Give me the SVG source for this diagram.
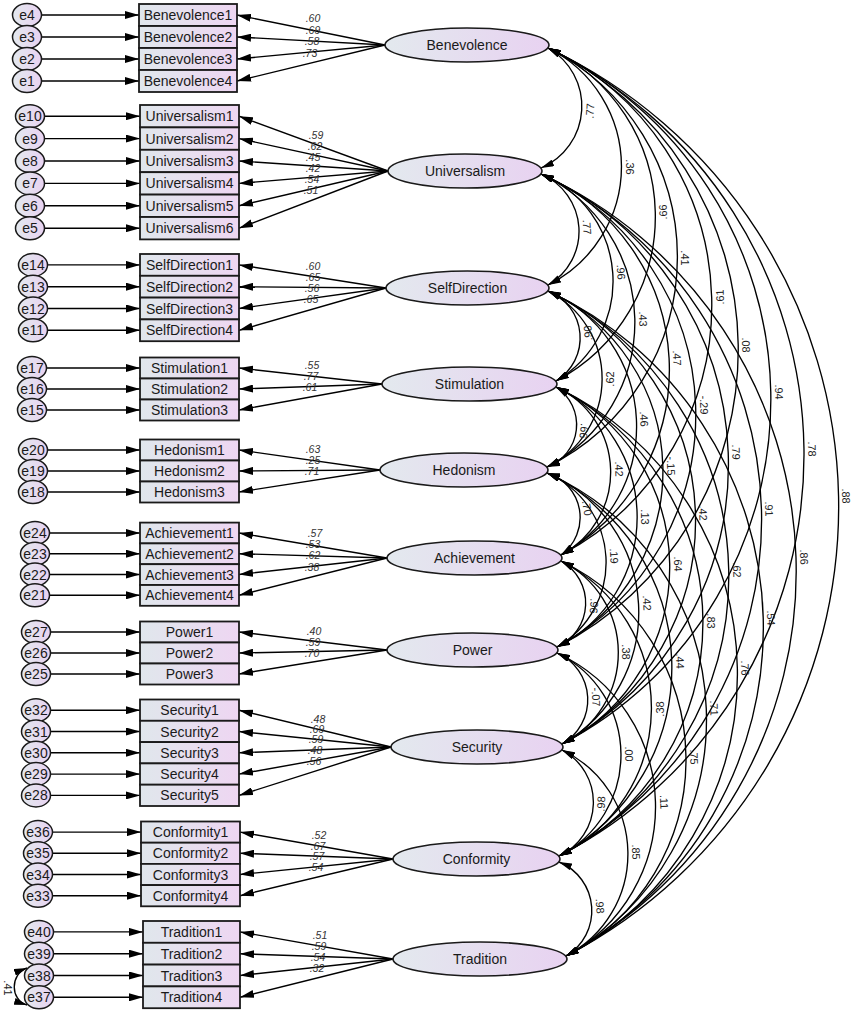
<svg xmlns="http://www.w3.org/2000/svg" width="855" height="1011" viewBox="0 0 855 1011">
<style>
.box{fill:url(#gb);stroke:#1a1a1a;stroke-width:1.8}
.lat{fill:url(#ge);stroke:#1a1a1a;stroke-width:1.6}
.err{fill:url(#ge);stroke:#1a1a1a;stroke-width:1.5}
text{font-family:"Liberation Sans",Arial,sans-serif;fill:#1a1a1a}
.t{font-size:14px;text-anchor:middle}
.ld{font-size:10.5px;font-style:italic;text-anchor:middle;fill:#333}
.cl{font-size:11px;text-anchor:middle;fill:#222}
.ln{stroke:#000;stroke-width:1.4;fill:none;marker-end:url(#a1)}
.arc{stroke:#000;stroke-width:1.35;fill:none;marker-start:url(#a2);marker-end:url(#a2)}
</style>
<defs>
<linearGradient id="gb" x1="0" y1="0" x2="1" y2="0"><stop offset="0" stop-color="#e0e7ec"/><stop offset="1" stop-color="#eed6f2"/></linearGradient>
<linearGradient id="ge" x1="0" y1="0" x2="1" y2="0"><stop offset="0" stop-color="#e3e9ee"/><stop offset="1" stop-color="#e8d2f1"/></linearGradient>
<marker id="a1" markerUnits="userSpaceOnUse" markerWidth="14" markerHeight="8" refX="14" refY="4" orient="auto"><path d="M0,0 L14,4 L0,8 z" fill="#000"/></marker>
<marker id="a2" markerUnits="userSpaceOnUse" markerWidth="13" markerHeight="7" refX="13" refY="3.5" orient="auto-start-reverse"><path d="M0,0 L13,3.5 L0,7 z" fill="#000"/></marker>
</defs>
<rect width="855" height="1011" fill="#fff"/>
<g id="connectors">
<g id="error-paths">
<path class="ln" d="M41.5 15H139"/><path class="ln" d="M41.5 37H139"/><path class="ln" d="M41.5 59H139"/><path class="ln" d="M41.5 81H139"/>
<path class="ln" d="M44.5 116.2H140"/><path class="ln" d="M44.5 138.6H140"/><path class="ln" d="M44.5 161H140"/><path class="ln" d="M44.5 183.4H140"/><path class="ln" d="M44.5 205.8H140"/><path class="ln" d="M44.5 228.2H140"/>
<path class="ln" d="M47.5 264.9H140"/><path class="ln" d="M47.5 286.7H140"/><path class="ln" d="M47.5 308.5H140"/><path class="ln" d="M47.5 330.3H140"/>
<path class="ln" d="M46.5 368H140"/><path class="ln" d="M46.5 389H140"/><path class="ln" d="M46.5 410H140"/>
<path class="ln" d="M47.5 450H140"/><path class="ln" d="M47.5 471H140"/><path class="ln" d="M47.5 492H140"/>
<path class="ln" d="M49.5 533H140"/><path class="ln" d="M49.5 553.7H140"/><path class="ln" d="M49.5 574.5H140"/><path class="ln" d="M49.5 595.3H140"/>
<path class="ln" d="M50.5 632H140"/><path class="ln" d="M50.5 653H140"/><path class="ln" d="M50.5 674H140"/>
<path class="ln" d="M50.5 710.2H140"/><path class="ln" d="M50.5 731.5H140"/><path class="ln" d="M50.5 752.8H140"/><path class="ln" d="M50.5 774.1H140"/><path class="ln" d="M50.5 795.4H140"/>
<path class="ln" d="M52.5 832.1H141"/><path class="ln" d="M52.5 853.3H141"/><path class="ln" d="M52.5 874.5H141"/><path class="ln" d="M52.5 895.7H141"/>
<path class="ln" d="M53.5 931.9H143"/><path class="ln" d="M53.5 953.7H143"/><path class="ln" d="M53.5 975.5H143"/><path class="ln" d="M53.5 997.3H143"/>
</g>
<g id="loading-paths">
<path class="ln" d="M385 45L237 15"/><path class="ln" d="M385 45L237 37"/><path class="ln" d="M385 45L237 59"/><path class="ln" d="M385 45L237 81"/>
<path class="ln" d="M388 171L239 116.2"/><path class="ln" d="M388 171L239 138.6"/><path class="ln" d="M388 171L239 161"/><path class="ln" d="M388 171L239 183.4"/><path class="ln" d="M388 171L239 205.8"/><path class="ln" d="M388 171L239 228.2"/>
<path class="ln" d="M386 288L239 264.9"/><path class="ln" d="M386 288L239 286.7"/><path class="ln" d="M386 288L239 308.5"/><path class="ln" d="M386 288L239 330.3"/>
<path class="ln" d="M382 384L239 368"/><path class="ln" d="M382 384L239 389"/><path class="ln" d="M382 384L239 410"/>
<path class="ln" d="M380 470L239 450"/><path class="ln" d="M380 470L239 471"/><path class="ln" d="M380 470L239 492"/>
<path class="ln" d="M387 558L239 533"/><path class="ln" d="M387 558L239 553.7"/><path class="ln" d="M387 558L239 574.5"/><path class="ln" d="M387 558L239 595.3"/>
<path class="ln" d="M387 650L239 632"/><path class="ln" d="M387 650L239 653"/><path class="ln" d="M387 650L239 674"/>
<path class="ln" d="M391 747L239 710.2"/><path class="ln" d="M391 747L239 731.5"/><path class="ln" d="M391 747L239 752.8"/><path class="ln" d="M391 747L239 774.1"/><path class="ln" d="M391 747L239 795.4"/>
<path class="ln" d="M393 859L240 832.1"/><path class="ln" d="M393 859L240 853.3"/><path class="ln" d="M393 859L240 874.5"/><path class="ln" d="M393 859L240 895.7"/>
<path class="ln" d="M393 959L240 931.9"/><path class="ln" d="M393 959L240 953.7"/><path class="ln" d="M393 959L240 975.5"/><path class="ln" d="M393 959L240 997.3"/>
</g>
<g id="loading-labels">
<text class="ld" x="313" y="21.7">.60</text><text class="ld" x="313" y="33.7">.69</text><text class="ld" x="312" y="44.7">.58</text><text class="ld" x="310" y="56.7">.73</text>
<text class="ld" x="316" y="138.7">.59</text><text class="ld" x="315" y="149.7">.62</text><text class="ld" x="313" y="160.7">.45</text><text class="ld" x="313" y="171.7">.42</text><text class="ld" x="312" y="182.7">.54</text><text class="ld" x="311" y="193.7">.51</text>
<text class="ld" x="313" y="269.7">.60</text><text class="ld" x="313" y="280.7">.65</text><text class="ld" x="312" y="291.7">.56</text><text class="ld" x="311" y="302.7">.65</text>
<text class="ld" x="312" y="368.7">.55</text><text class="ld" x="311" y="379.7">.77</text><text class="ld" x="310" y="390.7">.61</text>
<text class="ld" x="313" y="452.7">.63</text><text class="ld" x="313" y="463.7">.25</text><text class="ld" x="312" y="474.7">.71</text>
<text class="ld" x="315" y="536.7">.57</text><text class="ld" x="313" y="547.7">.53</text><text class="ld" x="313" y="558.7">.62</text><text class="ld" x="312" y="570.7">.38</text>
<text class="ld" x="314" y="634.7">.40</text><text class="ld" x="313" y="645.7">.59</text><text class="ld" x="312" y="656.7">.70</text>
<text class="ld" x="318" y="722.7">.48</text><text class="ld" x="317" y="732.7">.69</text><text class="ld" x="316" y="742.7">.59</text><text class="ld" x="315" y="753.7">.48</text><text class="ld" x="314" y="764.7">.56</text>
<text class="ld" x="319" y="838.7">.52</text><text class="ld" x="318" y="849.7">.67</text><text class="ld" x="317" y="859.7">.57</text><text class="ld" x="316" y="870.7">.54</text>
<text class="ld" x="320" y="938.7">.51</text><text class="ld" x="319" y="949.7">.59</text><text class="ld" x="318" y="960.7">.54</text><text class="ld" x="317" y="971.7">.32</text>
</g>
<g id="error-covariance">
<path class="arc" d="M27 968C10 974 10 1000 27 1005"/>
<text class="cl" x="8" y="988" transform="rotate(90 8 988)" dy="0.35em">.41</text>
</g>
<g id="correlations">
<path class="arc" d="M548 48A67.1 67.1 0 0 1 541 168"/>
<path class="arc" d="M548 48A132.3 132.3 0 0 1 548 285"/>
<path class="arc" d="M548 48A185.9 185.9 0 0 1 556 381"/>
<path class="arc" d="M548 48A233.9 233.9 0 0 1 547 467"/>
<path class="arc" d="M548 48A283.1 283.1 0 0 1 561 555"/>
<path class="arc" d="M548 48A334.4 334.4 0 0 1 557 647"/>
<path class="arc" d="M548 48A388.6 388.6 0 0 1 562 744"/>
<path class="arc" d="M548 48A451.1 451.1 0 0 1 559 856"/>
<path class="arc" d="M548 48A506.9 506.9 0 0 1 566 956"/>
<path class="arc" d="M541 174A62.1 62.1 0 0 1 548 285"/>
<path class="arc" d="M541 174A115.8 115.8 0 0 1 556 381"/>
<path class="arc" d="M541 174A163.6 163.6 0 0 1 547 467"/>
<path class="arc" d="M541 174A213 213 0 0 1 561 555"/>
<path class="arc" d="M541 174A264.2 264.2 0 0 1 557 647"/>
<path class="arc" d="M541 174A318.4 318.4 0 0 1 562 744"/>
<path class="arc" d="M541 174A380.8 380.8 0 0 1 559 856"/>
<path class="arc" d="M541 174A436.7 436.7 0 0 1 566 956"/>
<path class="arc" d="M548 291A50.4 50.4 0 0 1 556 381"/>
<path class="arc" d="M548 291A98.2 98.2 0 0 1 547 467"/>
<path class="arc" d="M548 291A147.5 147.5 0 0 1 561 555"/>
<path class="arc" d="M548 291A198.8 198.8 0 0 1 557 647"/>
<path class="arc" d="M548 291A253 253 0 0 1 562 744"/>
<path class="arc" d="M548 291A315.4 315.4 0 0 1 559 856"/>
<path class="arc" d="M548 291A371.3 371.3 0 0 1 566 956"/>
<path class="arc" d="M556 387A44.9 44.9 0 0 1 547 467"/>
<path class="arc" d="M556 387A93.8 93.8 0 0 1 561 555"/>
<path class="arc" d="M556 387A145.1 145.1 0 0 1 557 647"/>
<path class="arc" d="M556 387A199.3 199.3 0 0 1 562 744"/>
<path class="arc" d="M556 387A261.8 261.8 0 0 1 559 856"/>
<path class="arc" d="M556 387A317.7 317.7 0 0 1 566 956"/>
<path class="arc" d="M547 473A46.4 46.4 0 0 1 561 555"/>
<path class="arc" d="M547 473A97.3 97.3 0 0 1 557 647"/>
<path class="arc" d="M547 473A151.5 151.5 0 0 1 562 744"/>
<path class="arc" d="M547 473A213.9 213.9 0 0 1 559 856"/>
<path class="arc" d="M547 473A269.8 269.8 0 0 1 566 956"/>
<path class="arc" d="M561 561A48.1 48.1 0 0 1 557 647"/>
<path class="arc" d="M561 561A102.1 102.1 0 0 1 562 744"/>
<path class="arc" d="M561 561A164.7 164.7 0 0 1 559 856"/>
<path class="arc" d="M561 561A220.5 220.5 0 0 1 566 956"/>
<path class="arc" d="M557 653A50.9 50.9 0 0 1 562 744"/>
<path class="arc" d="M557 653A113.3 113.3 0 0 1 559 856"/>
<path class="arc" d="M557 653A169.2 169.2 0 0 1 566 956"/>
<path class="arc" d="M562 750A59.2 59.2 0 0 1 559 856"/>
<path class="arc" d="M562 750A115 115 0 0 1 566 956"/>
<path class="arc" d="M559 862A52.6 52.6 0 0 1 566 956"/>
</g>
<g id="correlation-labels">
<text class="cl" x="590" y="111" dy="0.35em" transform="rotate(-87 590 111)">.77</text>
<text class="cl" x="630" y="167" dy="0.35em" transform="rotate(90 630 167)">.36</text>
<text class="cl" x="663" y="212" dy="0.35em" transform="rotate(-91 663 212)">.66</text>
<text class="cl" x="685" y="258" dy="0.35em" transform="rotate(90 685 258)">.41</text>
<text class="cl" x="720" y="297" dy="0.35em" transform="rotate(-91.5 720 297)">.61</text>
<text class="cl" x="746" y="345" dy="0.35em" transform="rotate(89 746 345)">.08</text>
<text class="cl" x="779" y="392" dy="0.35em" transform="rotate(89 779 392)">.94</text>
<text class="cl" x="812" y="449" dy="0.35em" transform="rotate(89 812 449)">.78</text>
<text class="cl" x="846" y="496" dy="0.35em" transform="rotate(89 846 496)">.88</text>
<text class="cl" x="587" y="227" dy="0.35em" transform="rotate(86 587 227)">.77</text>
<text class="cl" x="621" y="272" dy="0.35em" transform="rotate(86 621 272)">.96</text>
<text class="cl" x="643" y="319" dy="0.35em" transform="rotate(89 643 319)">.43</text>
<text class="cl" x="677" y="358" dy="0.35em" transform="rotate(87 677 358)">.47</text>
<text class="cl" x="704" y="405" dy="0.35em" transform="rotate(88 704 405)">-.29</text>
<text class="cl" x="736" y="452" dy="0.35em" transform="rotate(88 736 452)">.79</text>
<text class="cl" x="769" y="509" dy="0.35em" transform="rotate(88.5 769 509)">.91</text>
<text class="cl" x="804" y="557" dy="0.35em" transform="rotate(88 804 557)">.86</text>
<text class="cl" x="588" y="333" dy="0.35em" transform="rotate(-95 588 333)">.90</text>
<text class="cl" x="610" y="379" dy="0.35em" transform="rotate(-90 610 379)">.62</text>
<text class="cl" x="644" y="419" dy="0.35em" transform="rotate(87 644 419)">.46</text>
<text class="cl" x="671" y="466" dy="0.35em" transform="rotate(88.5 671 466)">-.15</text>
<text class="cl" x="703" y="513" dy="0.35em" transform="rotate(88 703 513)">.42</text>
<text class="cl" x="737" y="570" dy="0.35em" transform="rotate(89 737 570)">.62</text>
<text class="cl" x="771" y="618" dy="0.35em" transform="rotate(88.5 771 618)">.54</text>
<text class="cl" x="584" y="431" dy="0.35em" transform="rotate(96 584 431)">.66</text>
<text class="cl" x="619" y="469" dy="0.35em" transform="rotate(88 619 469)">.42</text>
<text class="cl" x="645" y="517" dy="0.35em" transform="rotate(90 645 517)">.13</text>
<text class="cl" x="678" y="564" dy="0.35em" transform="rotate(89 678 564)">.64</text>
<text class="cl" x="711" y="621" dy="0.35em" transform="rotate(90 711 621)">.83</text>
<text class="cl" x="745" y="668" dy="0.35em" transform="rotate(89 745 668)">.76</text>
<text class="cl" x="587" y="508" dy="0.35em" transform="rotate(80 587 508)">.70</text>
<text class="cl" x="614" y="556" dy="0.35em" transform="rotate(87 614 556)">.19</text>
<text class="cl" x="647" y="603" dy="0.35em" transform="rotate(87 647 603)">.42</text>
<text class="cl" x="680" y="661" dy="0.35em" transform="rotate(88 680 661)">.44</text>
<text class="cl" x="714" y="708" dy="0.35em" transform="rotate(88 714 708)">.71</text>
<text class="cl" x="594" y="606" dy="0.35em" transform="rotate(93 594 606)">.96</text>
<text class="cl" x="626" y="652" dy="0.35em" transform="rotate(90 626 652)">.38</text>
<text class="cl" x="660" y="709" dy="0.35em" transform="rotate(-90 660 709)">.38</text>
<text class="cl" x="694" y="757" dy="0.35em" transform="rotate(89 694 757)">.75</text>
<text class="cl" x="596" y="697" dy="0.35em" transform="rotate(87 596 697)">-.07</text>
<text class="cl" x="629" y="754" dy="0.35em" transform="rotate(89 629 754)">.00</text>
<text class="cl" x="664" y="802" dy="0.35em" transform="rotate(88 664 802)">.11</text>
<text class="cl" x="601" y="804" dy="0.35em" transform="rotate(-88 601 804)">.98</text>
<text class="cl" x="636" y="852" dy="0.35em" transform="rotate(89 636 852)">.85</text>
<text class="cl" x="600" y="906" dy="0.35em" transform="rotate(86 600 906)">.98</text>
</g>
</g>
<g id="benevolence-group">
<g id="e4"><ellipse class="err" cx="27" cy="15" rx="14.5" ry="11.5"/><text class="t" x="27" y="20">e4</text></g>
<g id="e3"><ellipse class="err" cx="27" cy="37" rx="14.5" ry="11.5"/><text class="t" x="27" y="42">e3</text></g>
<g id="e2"><ellipse class="err" cx="27" cy="59" rx="14.5" ry="11.5"/><text class="t" x="27" y="64">e2</text></g>
<g id="e1"><ellipse class="err" cx="27" cy="81" rx="14.5" ry="11.5"/><text class="t" x="27" y="86">e1</text></g>
<g id="Benevolence1"><rect class="box" x="139" y="4" width="98" height="22"/><text class="t" x="188" y="20">Benevolence1</text></g>
<g id="Benevolence2"><rect class="box" x="139" y="26" width="98" height="22"/><text class="t" x="188" y="42">Benevolence2</text></g>
<g id="Benevolence3"><rect class="box" x="139" y="48" width="98" height="22"/><text class="t" x="188" y="64">Benevolence3</text></g>
<g id="Benevolence4"><rect class="box" x="139" y="70" width="98" height="22"/><text class="t" x="188" y="86">Benevolence4</text></g>
<g id="Benevolence"><ellipse class="lat" cx="467" cy="45" rx="82" ry="17"/><text class="t" x="467" y="50">Benevolence</text></g>
</g>
<g id="universalism-group">
<g id="e10"><ellipse class="err" cx="30" cy="116.2" rx="14.5" ry="11.5"/><text class="t" x="30" y="121.2">e10</text></g>
<g id="e9"><ellipse class="err" cx="30" cy="138.6" rx="14.5" ry="11.5"/><text class="t" x="30" y="143.6">e9</text></g>
<g id="e8"><ellipse class="err" cx="30" cy="161" rx="14.5" ry="11.5"/><text class="t" x="30" y="166">e8</text></g>
<g id="e7"><ellipse class="err" cx="30" cy="183.4" rx="14.5" ry="11.5"/><text class="t" x="30" y="188.4">e7</text></g>
<g id="e6"><ellipse class="err" cx="30" cy="205.8" rx="14.5" ry="11.5"/><text class="t" x="30" y="210.8">e6</text></g>
<g id="e5"><ellipse class="err" cx="30" cy="228.2" rx="14.5" ry="11.5"/><text class="t" x="30" y="233.2">e5</text></g>
<g id="Universalism1"><rect class="box" x="140" y="105" width="99" height="22.4"/><text class="t" x="189.5" y="121.2">Universalism1</text></g>
<g id="Universalism2"><rect class="box" x="140" y="127.4" width="99" height="22.4"/><text class="t" x="189.5" y="143.6">Universalism2</text></g>
<g id="Universalism3"><rect class="box" x="140" y="149.8" width="99" height="22.4"/><text class="t" x="189.5" y="166">Universalism3</text></g>
<g id="Universalism4"><rect class="box" x="140" y="172.2" width="99" height="22.4"/><text class="t" x="189.5" y="188.4">Universalism4</text></g>
<g id="Universalism5"><rect class="box" x="140" y="194.6" width="99" height="22.4"/><text class="t" x="189.5" y="210.8">Universalism5</text></g>
<g id="Universalism6"><rect class="box" x="140" y="217" width="99" height="22.4"/><text class="t" x="189.5" y="233.2">Universalism6</text></g>
<g id="Universalism"><ellipse class="lat" cx="465" cy="171" rx="77" ry="17"/><text class="t" x="465" y="176">Universalism</text></g>
</g>
<g id="selfdirection-group">
<g id="e14"><ellipse class="err" cx="33" cy="264.9" rx="14.5" ry="11.5"/><text class="t" x="33" y="269.9">e14</text></g>
<g id="e13"><ellipse class="err" cx="33" cy="286.7" rx="14.5" ry="11.5"/><text class="t" x="33" y="291.7">e13</text></g>
<g id="e12"><ellipse class="err" cx="33" cy="308.5" rx="14.5" ry="11.5"/><text class="t" x="33" y="313.5">e12</text></g>
<g id="e11"><ellipse class="err" cx="33" cy="330.3" rx="14.5" ry="11.5"/><text class="t" x="33" y="335.3">e11</text></g>
<g id="SelfDirection1"><rect class="box" x="140" y="254" width="99" height="21.8"/><text class="t" x="189.5" y="269.9">SelfDirection1</text></g>
<g id="SelfDirection2"><rect class="box" x="140" y="275.8" width="99" height="21.8"/><text class="t" x="189.5" y="291.7">SelfDirection2</text></g>
<g id="SelfDirection3"><rect class="box" x="140" y="297.6" width="99" height="21.8"/><text class="t" x="189.5" y="313.5">SelfDirection3</text></g>
<g id="SelfDirection4"><rect class="box" x="140" y="319.4" width="99" height="21.8"/><text class="t" x="189.5" y="335.3">SelfDirection4</text></g>
<g id="SelfDirection"><ellipse class="lat" cx="467.5" cy="288" rx="81.5" ry="17"/><text class="t" x="467.5" y="293">SelfDirection</text></g>
</g>
<g id="stimulation-group">
<g id="e17"><ellipse class="err" cx="32" cy="368" rx="14.5" ry="11.5"/><text class="t" x="32" y="373">e17</text></g>
<g id="e16"><ellipse class="err" cx="32" cy="389" rx="14.5" ry="11.5"/><text class="t" x="32" y="394">e16</text></g>
<g id="e15"><ellipse class="err" cx="32" cy="410" rx="14.5" ry="11.5"/><text class="t" x="32" y="415">e15</text></g>
<g id="Stimulation1"><rect class="box" x="140" y="357.5" width="99" height="21"/><text class="t" x="189.5" y="373">Stimulation1</text></g>
<g id="Stimulation2"><rect class="box" x="140" y="378.5" width="99" height="21"/><text class="t" x="189.5" y="394">Stimulation2</text></g>
<g id="Stimulation3"><rect class="box" x="140" y="399.5" width="99" height="21"/><text class="t" x="189.5" y="415">Stimulation3</text></g>
<g id="Stimulation"><ellipse class="lat" cx="469.5" cy="384" rx="87.5" ry="17"/><text class="t" x="469.5" y="389">Stimulation</text></g>
</g>
<g id="hedonism-group">
<g id="e20"><ellipse class="err" cx="33" cy="450" rx="14.5" ry="11.5"/><text class="t" x="33" y="455">e20</text></g>
<g id="e19"><ellipse class="err" cx="33" cy="471" rx="14.5" ry="11.5"/><text class="t" x="33" y="476">e19</text></g>
<g id="e18"><ellipse class="err" cx="33" cy="492" rx="14.5" ry="11.5"/><text class="t" x="33" y="497">e18</text></g>
<g id="Hedonism1"><rect class="box" x="140" y="439.5" width="99" height="21"/><text class="t" x="189.5" y="455">Hedonism1</text></g>
<g id="Hedonism2"><rect class="box" x="140" y="460.5" width="99" height="21"/><text class="t" x="189.5" y="476">Hedonism2</text></g>
<g id="Hedonism3"><rect class="box" x="140" y="481.5" width="99" height="21"/><text class="t" x="189.5" y="497">Hedonism3</text></g>
<g id="Hedonism"><ellipse class="lat" cx="464" cy="470" rx="84" ry="17"/><text class="t" x="464" y="475">Hedonism</text></g>
</g>
<g id="achievement-group">
<g id="e24"><ellipse class="err" cx="35" cy="533" rx="14.5" ry="11.5"/><text class="t" x="35" y="538">e24</text></g>
<g id="e23"><ellipse class="err" cx="35" cy="553.7" rx="14.5" ry="11.5"/><text class="t" x="35" y="558.7">e23</text></g>
<g id="e22"><ellipse class="err" cx="35" cy="574.5" rx="14.5" ry="11.5"/><text class="t" x="35" y="579.5">e22</text></g>
<g id="e21"><ellipse class="err" cx="35" cy="595.3" rx="14.5" ry="11.5"/><text class="t" x="35" y="600.3">e21</text></g>
<g id="Achievement1"><rect class="box" x="140" y="522.6" width="99" height="20.8"/><text class="t" x="189.5" y="538">Achievement1</text></g>
<g id="Achievement2"><rect class="box" x="140" y="543.4" width="99" height="20.8"/><text class="t" x="189.5" y="558.7">Achievement2</text></g>
<g id="Achievement3"><rect class="box" x="140" y="564.2" width="99" height="20.8"/><text class="t" x="189.5" y="579.5">Achievement3</text></g>
<g id="Achievement4"><rect class="box" x="140" y="585" width="99" height="20.8"/><text class="t" x="189.5" y="600.3">Achievement4</text></g>
<g id="Achievement"><ellipse class="lat" cx="474.5" cy="558" rx="87.5" ry="17"/><text class="t" x="474.5" y="563">Achievement</text></g>
</g>
<g id="power-group">
<g id="e27"><ellipse class="err" cx="36" cy="632" rx="14.5" ry="11.5"/><text class="t" x="36" y="637">e27</text></g>
<g id="e26"><ellipse class="err" cx="36" cy="653" rx="14.5" ry="11.5"/><text class="t" x="36" y="658">e26</text></g>
<g id="e25"><ellipse class="err" cx="36" cy="674" rx="14.5" ry="11.5"/><text class="t" x="36" y="679">e25</text></g>
<g id="Power1"><rect class="box" x="140" y="621.5" width="99" height="21"/><text class="t" x="189.5" y="637">Power1</text></g>
<g id="Power2"><rect class="box" x="140" y="642.5" width="99" height="21"/><text class="t" x="189.5" y="658">Power2</text></g>
<g id="Power3"><rect class="box" x="140" y="663.5" width="99" height="21"/><text class="t" x="189.5" y="679">Power3</text></g>
<g id="Power"><ellipse class="lat" cx="472.5" cy="650" rx="85.5" ry="17"/><text class="t" x="472.5" y="655">Power</text></g>
</g>
<g id="security-group">
<g id="e32"><ellipse class="err" cx="36" cy="710.2" rx="14.5" ry="11.5"/><text class="t" x="36" y="715.2">e32</text></g>
<g id="e31"><ellipse class="err" cx="36" cy="731.5" rx="14.5" ry="11.5"/><text class="t" x="36" y="736.5">e31</text></g>
<g id="e30"><ellipse class="err" cx="36" cy="752.8" rx="14.5" ry="11.5"/><text class="t" x="36" y="757.8">e30</text></g>
<g id="e29"><ellipse class="err" cx="36" cy="774.1" rx="14.5" ry="11.5"/><text class="t" x="36" y="779.1">e29</text></g>
<g id="e28"><ellipse class="err" cx="36" cy="795.4" rx="14.5" ry="11.5"/><text class="t" x="36" y="800.4">e28</text></g>
<g id="Security1"><rect class="box" x="140" y="699.5" width="99" height="21.3"/><text class="t" x="189.5" y="715.2">Security1</text></g>
<g id="Security2"><rect class="box" x="140" y="720.8" width="99" height="21.3"/><text class="t" x="189.5" y="736.5">Security2</text></g>
<g id="Security3"><rect class="box" x="140" y="742.1" width="99" height="21.3"/><text class="t" x="189.5" y="757.8">Security3</text></g>
<g id="Security4"><rect class="box" x="140" y="763.4" width="99" height="21.3"/><text class="t" x="189.5" y="779.1">Security4</text></g>
<g id="Security5"><rect class="box" x="140" y="784.7" width="99" height="21.3"/><text class="t" x="189.5" y="800.4">Security5</text></g>
<g id="Security"><ellipse class="lat" cx="477" cy="747" rx="86" ry="17"/><text class="t" x="477" y="752">Security</text></g>
</g>
<g id="conformity-group">
<g id="e36"><ellipse class="err" cx="38" cy="832.1" rx="14.5" ry="11.5"/><text class="t" x="38" y="837.1">e36</text></g>
<g id="e35"><ellipse class="err" cx="38" cy="853.3" rx="14.5" ry="11.5"/><text class="t" x="38" y="858.3">e35</text></g>
<g id="e34"><ellipse class="err" cx="38" cy="874.5" rx="14.5" ry="11.5"/><text class="t" x="38" y="879.5">e34</text></g>
<g id="e33"><ellipse class="err" cx="38" cy="895.7" rx="14.5" ry="11.5"/><text class="t" x="38" y="900.7">e33</text></g>
<g id="Conformity1"><rect class="box" x="141" y="821.5" width="99" height="21.2"/><text class="t" x="190.5" y="837.1">Conformity1</text></g>
<g id="Conformity2"><rect class="box" x="141" y="842.7" width="99" height="21.2"/><text class="t" x="190.5" y="858.3">Conformity2</text></g>
<g id="Conformity3"><rect class="box" x="141" y="863.9" width="99" height="21.2"/><text class="t" x="190.5" y="879.5">Conformity3</text></g>
<g id="Conformity4"><rect class="box" x="141" y="885.1" width="99" height="21.2"/><text class="t" x="190.5" y="900.7">Conformity4</text></g>
<g id="Conformity"><ellipse class="lat" cx="476.5" cy="859" rx="83.5" ry="17"/><text class="t" x="476.5" y="864">Conformity</text></g>
</g>
<g id="tradition-group">
<g id="e40"><ellipse class="err" cx="39" cy="931.9" rx="14.5" ry="11.5"/><text class="t" x="39" y="936.9">e40</text></g>
<g id="e39"><ellipse class="err" cx="39" cy="953.7" rx="14.5" ry="11.5"/><text class="t" x="39" y="958.7">e39</text></g>
<g id="e38"><ellipse class="err" cx="39" cy="975.5" rx="14.5" ry="11.5"/><text class="t" x="39" y="980.5">e38</text></g>
<g id="e37"><ellipse class="err" cx="39" cy="997.3" rx="14.5" ry="11.5"/><text class="t" x="39" y="1002.3">e37</text></g>
<g id="Tradition1"><rect class="box" x="143" y="921" width="97" height="21.8"/><text class="t" x="191.5" y="936.9">Tradition1</text></g>
<g id="Tradition2"><rect class="box" x="143" y="942.8" width="97" height="21.8"/><text class="t" x="191.5" y="958.7">Tradition2</text></g>
<g id="Tradition3"><rect class="box" x="143" y="964.6" width="97" height="21.8"/><text class="t" x="191.5" y="980.5">Tradition3</text></g>
<g id="Tradition4"><rect class="box" x="143" y="986.4" width="97" height="21.8"/><text class="t" x="191.5" y="1002.3">Tradition4</text></g>
<g id="Tradition"><ellipse class="lat" cx="480" cy="959" rx="87" ry="17"/><text class="t" x="480" y="964">Tradition</text></g>
</g>
</svg>
